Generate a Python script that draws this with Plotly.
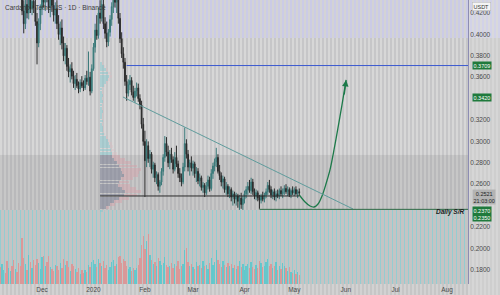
import base64
import pandas as pd
import plotly.graph_objects as go

# ---------------- data ----------------
dates = pd.date_range("2019-11-06", "2020-05-04", freq="D")

opens = [.468,.460,.466,.474,.465,.455,.462,.470,.461,.453,.458,.450,.445,
         .438,.422,.410,.428,.420,.434,.424,.431,
         .425,.412,.392,.410,.424,.438,.430,.441,.436,.425,
         .433,.427,.418,.424,.410,.400,.406,.392,.380,.387,
         .370,.365,.368,.361,.354,.358,.352,.349,.355,.352,
         .350,.359,.356,.360,.347,.368,.388,.404,.399,.420,
         .415,.428,.410,.401,.393,.402,.414,.426,.438,.430,
         .440,.415,.396,.382,.374,.356,.345,.353,.357,.346,
         .341,.347,.350,.340,.334,.316,.300,.282,.296,.284,
         .288,.274,.278,.266,.269,.258,.262,.272,.285,.298,
         .290,.280,.288,.283,.274,.285,.279,.270,.266,.262,
         .276,.298,.288,.276,.280,.275,.279,.270,.272,.263,
         .266,.257,.259,.252,.258,.264,.256,.270,.277,.281,
         .285,.272,.268,.262,.265,.255,.258,.251,.255,.248,
         .251,.246,.249,.244,.247,.241,.246,.251,.255,.258,
         .254,.262,.253,.249,.252,.247,.245,.249,.246,.250,
         .253,.259,.255,.250,.253,.248,.251,.249,.254,.251,
         .253,.256,.253,.255,.250,.254,.252,.255,.251,.253]
highs = [.478,.472,.480,.482,.470,.466,.475,.476,.468,.462,.465,.456,.452,
         .442,.432,.436,.440,.437,.445,.438,.440,
         .433,.420,.415,.428,.445,.450,.446,.452,.448,.440,
         .444,.436,.430,.432,.418,.412,.414,.398,.392,.390,
         .378,.372,.374,.366,.362,.364,.356,.358,.361,.357,
         .362,.366,.384,.365,.372,.392,.410,.418,.425,.432,
         .438,.434,.416,.412,.405,.418,.430,.445,.452,.447,
         .446,.420,.402,.388,.378,.362,.358,.362,.360,.352,
         .350,.355,.354,.344,.338,.322,.310,.302,.300,.292,
         .290,.281,.280,.272,.271,.264,.275,.288,.305,.304,
         .296,.292,.294,.286,.290,.296,.282,.275,.270,.280,
         .313,.302,.292,.283,.286,.282,.281,.276,.275,.270,
         .268,.262,.261,.262,.268,.267,.274,.280,.284,.294,
         .288,.278,.271,.268,.267,.262,.260,.258,.257,.254,
         .253,.252,.251,.250,.252,.249,.254,.258,.262,.264,
         .266,.265,.256,.255,.254,.250,.251,.253,.252,.256,
         .262,.264,.258,.255,.256,.254,.255,.256,.258,.256,
         .259,.260,.258,.257,.256,.258,.257,.258,.255,.256]
lows = [.455,.452,.458,.462,.450,.448,.455,.458,.450,.446,.447,.440,.436,
        .418,.401,.405,.415,.414,.420,.418,.420,
        .408,.372,.388,.404,.418,.425,.422,.430,.420,.416,
        .421,.412,.410,.405,.395,.390,.386,.375,.372,.366,
        .360,.355,.358,.350,.348,.350,.345,.346,.350,.347,
        .348,.353,.352,.343,.345,.366,.383,.395,.396,.410,
        .412,.405,.396,.388,.389,.398,.408,.420,.425,.420,
        .410,.392,.378,.368,.352,.338,.342,.348,.343,.338,
        .336,.342,.337,.330,.312,.296,.248,.276,.280,.276,
        .270,.266,.262,.260,.254,.252,.259,.268,.281,.286,
        .276,.274,.280,.270,.272,.276,.266,.262,.258,.260,
        .272,.284,.272,.268,.272,.268,.266,.262,.260,.258,
        .254,.252,.248,.250,.255,.253,.254,.265,.272,.276,
        .270,.264,.258,.256,.252,.250,.248,.247,.244,.240,
        .242,.240,.238,.236,.237,.236,.242,.247,.250,.252,
        .251,.250,.246,.245,.244,.237,.242,.244,.243,.247,
        .250,.252,.247,.246,.245,.244,.247,.246,.249,.247,
        .250,.251,.249,.248,.247,.250,.249,.250,.247,.249]
closes = [.460,.466,.474,.465,.455,.462,.470,.461,.453,.458,.450,.445,.440,
          .422,.410,.428,.420,.434,.424,.431,.425,
          .412,.392,.410,.424,.438,.430,.441,.436,.425,.433,
          .427,.418,.424,.410,.400,.406,.392,.380,.387,.370,
          .365,.368,.361,.354,.358,.352,.349,.355,.352,.350,
          .359,.356,.360,.347,.368,.388,.404,.399,.420,.415,
          .428,.410,.401,.393,.402,.414,.426,.438,.430,.440,
          .415,.396,.382,.374,.356,.345,.353,.357,.346,.341,
          .347,.350,.340,.334,.316,.300,.282,.296,.284,.288,
          .274,.278,.266,.269,.258,.262,.272,.285,.298,.290,
          .280,.288,.283,.274,.285,.279,.270,.266,.262,.276,
          .298,.288,.276,.280,.275,.279,.270,.272,.263,.266,
          .257,.259,.252,.258,.264,.256,.270,.277,.281,.285,
          .272,.268,.262,.265,.255,.258,.251,.255,.248,.251,
          .246,.249,.244,.247,.241,.246,.251,.255,.258,.254,
          .262,.253,.249,.252,.247,.245,.249,.246,.250,.253,
          .259,.255,.250,.253,.248,.251,.249,.254,.251,.253,
          .256,.253,.255,.250,.254,.252,.255,.251,.253,.2521]
volumes = [3.6,4.2,3.0,2.4,4.8,3.4,2.8,3.8,5.0,3.2,2.6,4.4,3.9,
           9.8,5.4,4.2,3.0,6.2,4.6,3.4,5.1,
           4.0,5.2,4.4,3.2,5.6,6.0,3.8,4.6,5.9,3.6,
           3.1,2.8,4.1,3.7,2.9,4.5,3.3,5.2,4.0,4.8,
           3.6,2.7,4.2,3.9,3.1,2.5,3.4,2.2,2.9,2.4,
           3.0,2.6,4.1,3.5,4.6,5.0,4.2,3.6,5.3,4.4,
           3.8,4.9,3.3,4.0,2.9,3.6,4.7,5.1,3.9,4.3,
           5.8,6.0,4.4,5.2,4.8,3.7,3.1,3.6,2.8,3.3,
           2.9,3.4,4.0,5.5,8.2,10.2,7.4,9.0,10.6,6.2,
           5.0,4.2,4.6,3.8,5.4,4.9,4.0,4.4,5.7,4.1,
           3.6,3.9,4.5,3.4,4.2,3.7,4.8,3.2,3.9,4.3,
           7.2,7.6,4.7,3.8,4.2,3.5,3.1,4.6,3.8,4.0,
           3.3,4.9,3.7,4.1,3.2,4.4,5.5,4.0,4.6,7.2,
           5.1,4.3,3.6,4.8,4.1,3.5,4.5,3.9,4.2,3.4,
           4.0,3.1,3.7,4.9,3.6,4.3,2.9,3.8,4.2,3.3,
           4.7,3.6,3.1,4.0,3.3,4.8,4.4,3.5,3.9,4.6,
           5.2,3.8,4.3,3.4,3.9,4.6,3.0,3.7,3.2,4.5,
           3.9,3.3,2.8,3.5,2.6,2.4,2.9,2.2,2.5,2.0]

# volume profile (price rows, up / down volume)
profile_prices = [0.3730,0.3700,0.3670,0.3640,0.3610,0.3580,0.3550,0.3520,0.3490,
                  0.3460,0.3430,0.3400,0.3370,0.3340,0.3310,0.3280,0.3250,0.3220,
                  0.3190,0.3160,0.3130,0.3100,0.3070,0.3040,0.3010,0.2980,0.2950,
                  0.2920,0.2890,0.2860,0.2830,0.2800,0.2770,0.2740,0.2710,0.2680,
                  0.2650,0.2620,0.2590,0.2560,0.2530,0.2500,0.2470,0.2440,0.2410,
                  0.2380,0.2350]
profile_up = [2,4,6,8,9,8,6,4,2,
              2,3,2,3,2,2,3,2,2,
              3,2,3,3,4,6,8,9,10,
              11,12,12,14,17,19,21,22,24,
              21,19,18,22,25,24,19,14,10,
              6,3]
profile_down = [1,1,2,3,3,2,2,1,1,
                1,1,1,1,1,0.5,1,1,1,
                1,1,1,1,1,2,2,3,3,
                4,5,8,11,14,18,20,17,14,
                12,10,12,14,16,13,10,8,5,
                3,2]
value_area = (0.2359, 0.2873)

# drawn levels / annotations
resistance_level = 0.3709
support_level = 0.2490
daily_sr_level = 0.2365
trend_start = ("2020-01-18 19:00", 0.3415)
trend_end = ("2020-06-05 10:00", 0.2368)
proj_dates = ["2020-05-04", "2020-05-07 12:00", "2020-05-10 12:00", "2020-05-12 22:00",
              "2020-05-15 07:00", "2020-05-17 17:00", "2020-05-20 02:00", "2020-05-22 12:00",
              "2020-05-24 22:00", "2020-05-27 07:00", "2020-05-29 17:00", "2020-06-01 05:00"]
proj_prices = [0.2499, 0.2434, 0.2396, 0.2387, 0.2415, 0.2490, 0.2602, 0.2733,
               0.2920, 0.3125, 0.3340, 0.3574]
month_ticks = ["2019-12-01", "2020-01-01", "2020-02-01", "2020-03-01", "2020-04-01",
               "2020-05-01", "2020-06-01", "2020-07-01", "2020-08-01"]
month_labels = ["Dec", "2020", "Feb", "Mar", "Apr", "May", "Jun", "Jul", "Aug"]
price_ticks = [0.42, 0.40, 0.38, 0.36, 0.32, 0.30, 0.28, 0.26, 0.22, 0.20, 0.18]

# ---------------- layout constants ----------------
W, H = 500, 295
ML, MR, MT, MB = 0, 32, 0, 11
PW, PH = W - ML - MR, H - MT - MB
X_RANGE = ["2019-11-05 16:48", "2020-08-13 15:36"]
Y_RANGE = [0.16673, 0.43215]
FONT = "Liberation Sans, Arial, sans-serif"

def ypx(p):
    return (Y_RANGE[1] - p) / (Y_RANGE[1] - Y_RANGE[0]) * PH

# background texture (striped bands) as an svg image
va_top, va_bot = ypx(value_area[1]), ypx(value_area[0])
bands = [
    (0, PW, 0, 38, "#cbcbe6", "#d3d3d5", 2),
    (0, PW, 38, va_top, "#c6c6c8", "#d7d7d7", 2),
    (0, PW, va_top, va_bot, "#b9b9bb", "#c7c7c7", 2),
    (0, PW, va_bot, PH, "#c4c4c4", "#94cdd1", 1),
    (0, PW, PH, H, "#c6c6c6", "#d2d2d2", 2),
    (PW, W, 0, 38, "#d2d2e8", "#d9d9dc", 2),
    (PW, W, 38, H, "#cecece", "#d6d6d6", 2),
]
svg = [f'<svg xmlns="http://www.w3.org/2000/svg" width="{W}" height="{H}" viewBox="0 0 {W} {H}"><defs>']
for i, b in enumerate(bands):
    svg.append(f'<pattern id="p{i}" x="0" y="0" width="4" height="4" patternUnits="userSpaceOnUse">'
               f'<rect x="0" y="0" width="{b[6]}" height="4" fill="{b[5]}"/></pattern>')
svg.append('</defs>')
for i, (x0, x1, y0, y1, base, stripe, sw) in enumerate(bands):
    svg.append(f'<rect x="{x0}" y="{y0:.2f}" width="{x1-x0}" height="{y1-y0:.2f}" fill="{base}"/>')
    svg.append(f'<rect x="{x0}" y="{y0:.2f}" width="{x1-x0}" height="{y1-y0:.2f}" fill="url(#p{i})"/>')
svg.append('</svg>')
bg_uri = "data:image/svg+xml;base64," + base64.b64encode("".join(svg).encode()).decode()

fig = go.Figure()

# volume
vol_colors = ["rgba(80,200,205,0.8)" if c >= o else "rgba(222,148,148,0.9)"
              for o, c in zip(opens, closes)]
fig.add_trace(go.Bar(x=dates, y=volumes, marker=dict(color=vol_colors, line_width=0),
                     xaxis="x", yaxis="y3", hoverinfo="skip", showlegend=False))

# candles
fig.add_trace(go.Candlestick(
    x=dates, open=opens, high=highs, low=lows, close=closes,
    increasing=dict(line=dict(color="#3a7a7a", width=1), fillcolor="#3a7a7a"),
    decreasing=dict(line=dict(color="#2b2b2b", width=1), fillcolor="#2b2b2b"),
    whiskerwidth=0, hoverinfo="skip", showlegend=False, xaxis="x", yaxis="y"))

# volume profile
in_va = [value_area[0] <= p <= value_area[1] for p in profile_prices]
up_cols = ["rgba(125,130,150,0.55)" if v else "rgba(130,200,205,0.5)" for v in in_va]
dn_cols = ["rgba(215,160,168,0.45)" if v else "rgba(220,185,192,0.35)" for v in in_va]
fig.add_trace(go.Bar(y=profile_prices, x=profile_up, orientation="h", width=0.0026,
                     marker=dict(color=up_cols, line_width=0), xaxis="x3", yaxis="y",
                     hoverinfo="skip", showlegend=False))
fig.add_trace(go.Bar(y=profile_prices, x=profile_down, orientation="h", width=0.0026,
                     marker=dict(color=dn_cols, line_width=0), xaxis="x3", yaxis="y",
                     hoverinfo="skip", showlegend=False))

# projection curve
fig.add_trace(go.Scatter(x=proj_dates, y=proj_prices, mode="lines",
                         line=dict(color="#1d7a4a", width=1.3, shape="spline", smoothing=0.8),
                         hoverinfo="skip", showlegend=False, xaxis="x", yaxis="y"))

shapes = [
    dict(type="line", xref="x", yref="y", x0=trend_start[0], y0=trend_start[1],
         x1=trend_end[0], y1=trend_end[1], line=dict(color="#5f9c9c", width=1)),
    dict(type="line", xref="x", yref="y", x0="2020-01-21", x1=X_RANGE[1],
         y0=resistance_level, y1=resistance_level, line=dict(color="#3c5ad0", width=1)),
    dict(type="line", xref="x", yref="y", x0="2020-01-05", x1="2020-05-04",
         y0=support_level, y1=support_level, line=dict(color="#2a2a2a", width=1)),
    dict(type="line", xref="x", yref="y", x0="2020-04-10", x1=X_RANGE[1],
         y0=daily_sr_level, y1=daily_sr_level, line=dict(color="#2d6b45", width=1)),
]

ax_x = 1 + 4 / PW
anns = [
    dict(text="Cardano / TetherUS · 1D · Binance", xref="paper", yref="paper",
         x=3 / PW, y=1 - 2 / PH, xanchor="left", yanchor="top", showarrow=False,
         font=dict(size=6.5, color="#3a3a3a", family=FONT)),
    dict(text="USDT", xref="paper", yref="paper", x=ax_x, y=1 - 2 / PH,
         xanchor="left", yanchor="top", showarrow=False, bgcolor="#f4f4f4",
         bordercolor="#b5b5b5", borderwidth=0.5, borderpad=1,
         font=dict(size=5.5, color="#333", family=FONT)),
    dict(text="%.4f" % resistance_level, xref="paper", yref="y", x=ax_x, y=resistance_level,
         xanchor="left", yanchor="middle", showarrow=False, bgcolor="#1f7a3c", borderpad=0.5,
         font=dict(size=5.5, color="#ffffff", family=FONT)),
    dict(text="%.4f" % 0.3420, xref="paper", yref="y", x=ax_x, y=trend_start[1],
         xanchor="left", yanchor="middle", showarrow=False, bgcolor="#1f7a3c", borderpad=0.5,
         font=dict(size=5.5, color="#ffffff", family=FONT)),
    dict(text="%.4f<br>21:03:00" % closes[-1], xref="paper", yref="y", x=ax_x, y=0.2555,
         xanchor="left", yanchor="top", showarrow=False, bgcolor="#b3b3b3", borderpad=0.5,
         font=dict(size=5.5, color="#222", family=FONT)),
    dict(text="0.2370<br>0.2350", xref="paper", yref="y", x=ax_x, y=0.2396,
         xanchor="left", yanchor="top", showarrow=False, bgcolor="#1f7a3c", borderpad=0.5,
         font=dict(size=5.5, color="#ffffff", family=FONT)),
    dict(text="<b><i>Daily S/R</i></b>", xref="paper", yref="y", x=466 / PW, y=0.2338,
         xanchor="right", yanchor="middle", showarrow=False,
         font=dict(size=6.5, color="#1e1e1e", family=FONT)),
    dict(text="", xref="x", yref="y", x=proj_dates[-1], y=proj_prices[-1],
         showarrow=True, arrowhead=2, arrowsize=1, arrowwidth=1.3, arrowcolor="#1d7a4a",
         ax=-2, ay=16, standoff=0),
]

fig.update_layout(
    width=W, height=H,
    margin=dict(l=ML, r=MR, t=MT, b=MB, pad=0),
    paper_bgcolor="#c8c8c8", plot_bgcolor="rgba(0,0,0,0)",
    barmode="stack", bargap=0.2,
    showlegend=False,
    font=dict(family=FONT, size=6.5, color="#4a4a4a"),
    images=[dict(source=bg_uri, xref="paper", yref="paper", x=0, y=1,
                 sizex=W / PW, sizey=H / PH, xanchor="left", yanchor="top",
                 sizing="stretch", layer="below")],
    xaxis=dict(type="date", range=X_RANGE, tickvals=month_ticks, ticktext=month_labels,
               showgrid=False, zeroline=False, showline=False, ticks="",
               tickfont=dict(size=6.5, color="#4a4a4a"), rangeslider=dict(visible=False),
               fixedrange=True),
    xaxis3=dict(overlaying="x", range=[-100, 368], visible=False, fixedrange=True),
    yaxis=dict(side="right", range=Y_RANGE, tickvals=price_ticks, tickformat=".4f",
               showgrid=False, zeroline=False, showline=True, linecolor="#8d8db3",
               linewidth=1, ticks="", tickfont=dict(size=6.5, color="#4a4a4a"),
               fixedrange=True),
    yaxis3=dict(overlaying="y", range=[0, 60], visible=False, fixedrange=True),
    shapes=shapes,
    annotations=anns,
)

fig.write_html("out.html")
